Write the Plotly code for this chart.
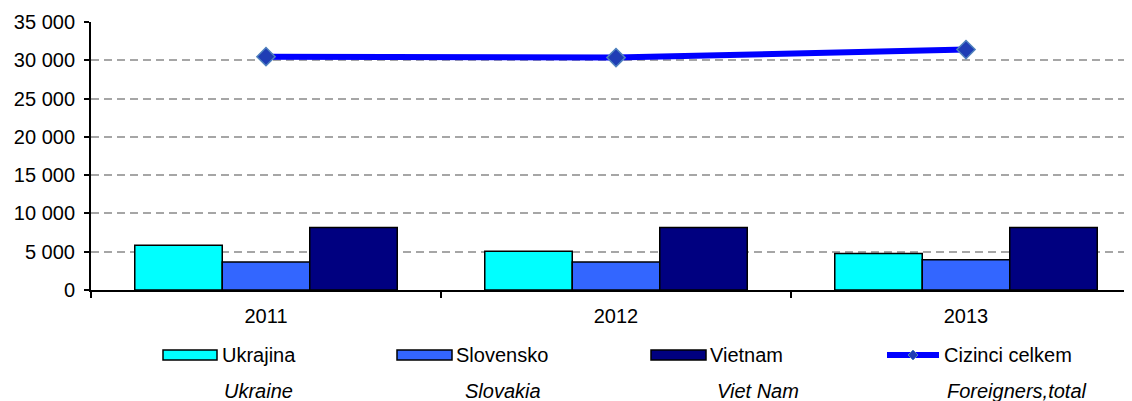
import plotly.graph_objects as go

# ---- data ----
years = ["2011", "2012", "2013"]
ukrajina = [5850, 5050, 4780]
slovensko = [3650, 3650, 3950]
vietnam = [8150, 8150, 8150]
cizinci_celkem = [30470, 30350, 31400]
series_cz = ["Ukrajina", "Slovensko", "Vietnam", "Cizinci celkem"]
series_en = ["Ukraine", "Slovakia", "Viet Nam", "Foreigners,total"]
y_ticks = [0, 5000, 10000, 15000, 20000, 25000, 30000, 35000]

# ---- geometry (pixels) ----
# the page body has an 8px margin, so figure coordinates = page coordinates - 8
OFF = 8
W, H = 1132, 401
L = 91 - OFF
T = 22 - OFF
B = H - (290 - OFF)
R = 0
PW = W - L - R
PH = H - T - B
CAT_PX = 350

def px_x(x):
    return (x - OFF - L) / PW

def px_y(y):
    return (H - B - (y - OFF)) / PH

FONT = "Liberation Sans, Arial, sans-serif"
colors = ["#00FFFF", "#3366FF", "#000080"]
line_color = "#0000FF"

fig = go.Figure()
for name, vals, col in zip(series_cz[:3], [ukrajina, slovensko, vietnam], colors):
    fig.add_trace(go.Bar(
        x=years, y=vals, name=name, marker=dict(color=col, line=dict(color="black", width=1.5)),
        showlegend=False,
    ))
fig.add_trace(go.Scatter(
    x=years, y=cizinci_celkem, name=series_cz[3], mode="lines+markers",
    line=dict(color=line_color, width=6),
    marker=dict(symbol="diamond", size=14, color="#1F3DB5", line=dict(color="#4F81BD", width=1.5)),
    showlegend=False,
))

# ---- custom legend ----
shapes = []
annotations = []
rect_x = [(163, 217), (397, 452), (651, 706)]
for (x0, x1), col in zip(rect_x, colors):
    shapes.append(dict(type="rect", xref="paper", yref="paper",
                       x0=px_x(x0), x1=px_x(x1), y0=px_y(360), y1=px_y(350),
                       fillcolor=col, line=dict(color="black", width=1.5)))
# line symbol
shapes.append(dict(type="line", xref="paper", yref="paper",
                   x0=px_x(887), x1=px_x(939), y0=px_y(355), y1=px_y(355),
                   line=dict(color=line_color, width=6)))
cx, cy, r = 913, 355, 5
path = "M {},{} L {},{} L {},{} L {},{} Z".format(
    px_x(cx - r), px_y(cy), px_x(cx), px_y(cy - r), px_x(cx + r), px_y(cy), px_x(cx), px_y(cy + r))
shapes.append(dict(type="path", xref="paper", yref="paper", path=path,
                   fillcolor="#1F3DB5", line=dict(color="#4F81BD", width=1)))

cz_x = [220, 454, 708, 942]
en_x = [222, 463, 715, 945]
for name, x in zip(series_cz, cz_x):
    annotations.append(dict(text=name, xref="paper", yref="paper", x=px_x(x), y=px_y(355),
                            xanchor="left", yanchor="middle", showarrow=False,
                            font=dict(family=FONT, size=20, color="black")))
for name, x in zip(series_en, en_x):
    annotations.append(dict(text="<i>" + name + "</i>", xref="paper", yref="paper", x=px_x(x), y=px_y(391),
                            xanchor="left", yanchor="middle", showarrow=False,
                            font=dict(family=FONT, size=20, color="black")))

fig.update_layout(
    width=W, height=H, autosize=False,
    margin=dict(l=L, r=R, t=T, b=B, pad=0),
    plot_bgcolor="white", paper_bgcolor="white",
    barmode="group", bargap=0.25, bargroupgap=0,
    separators=", ",
    font=dict(family=FONT, size=20, color="black"),
    shapes=shapes, annotations=annotations,
    showlegend=False,
)
fig.update_xaxes(
    type="category", categoryorder="array", categoryarray=years,
    range=[-0.5, -0.5 + PW / CAT_PX],
    showline=True, linecolor="black", linewidth=2,
    ticks="outside", tickson="boundaries", ticklen=6, tickwidth=2, tickcolor="black",
    showgrid=False, ticklabelstandoff=7,
    tickfont=dict(family=FONT, size=20, color="black"),
)
fig.update_yaxes(
    range=[0, 35000], tickvals=y_ticks, tickformat=",.0f",
    showline=True, linecolor="black", linewidth=2,
    ticks="outside", ticklen=5, tickwidth=1.5, tickcolor="black",
    showgrid=True, gridcolor="#A6A6A6", gridwidth=1.5, griddash="8px,5px",
    zeroline=False, ticklabelstandoff=5,
    tickfont=dict(family=FONT, size=20, color="black"),
)

fig.write_html("out.html")
